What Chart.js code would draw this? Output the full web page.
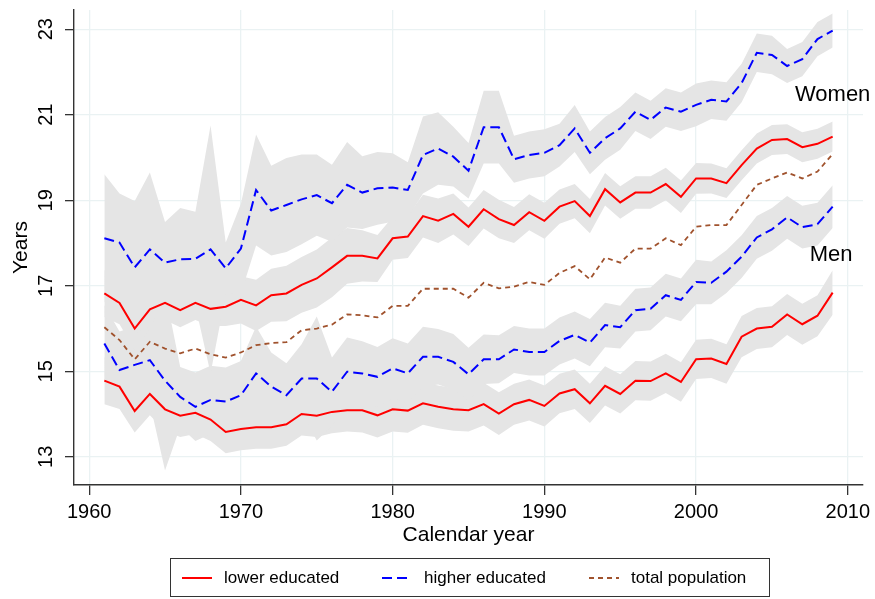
<!DOCTYPE html>
<html>
<head>
<meta charset="utf-8">
<script src="https://cdn.jsdelivr.net/npm/chart.js@4.4.1/dist/chart.umd.min.js"></script>
<style>
  body { margin: 0; background: #fff; font-family: "Liberation Sans", Arial, sans-serif; }
  #wrap { position: relative; width: 875px; height: 599px; }
  #legend {
    position: absolute; left: 170px; top: 558px; width: 600px; height: 39px;
    border: 1px solid #333; box-sizing: border-box;
  }
  .item { position: absolute; top: 0; height: 37px; display: flex; align-items: center; font-size: 17px; color: #000; }
  .item svg { margin-right: 12px; }
</style>
</head>
<body>
<div id="wrap">
  <canvas id="chart" width="875" height="599"></canvas>
  <div id="legend">
    <div class="item" style="left:11px"><svg width="30" height="4"><line x1="0" y1="2" x2="30" y2="2" stroke="#ff0000" stroke-width="2"/></svg>lower educated</div>
    <div class="item" style="left:211px"><svg width="30" height="4"><line x1="0" y1="2" x2="30" y2="2" stroke="#0000ff" stroke-width="2" stroke-dasharray="10,5"/></svg>higher educated</div>
    <div class="item" style="left:418px"><svg width="30" height="4"><line x1="0" y1="2" x2="30" y2="2" stroke="#a0522d" stroke-width="2" stroke-dasharray="5,4"/></svg>total population</div>
  </div>
</div>
<script>
const years = [
  1961, 1962, 1963, 1964, 1965, 1966, 1967, 1968, 1969, 1970,
  1971, 1972, 1973, 1974, 1975, 1976, 1977, 1978, 1979, 1980,
  1981, 1982, 1983, 1984, 1985, 1986, 1987, 1988, 1989, 1990,
  1991, 1992, 1993, 1994, 1995, 1996, 1997, 1998, 1999, 2000,
  2001, 2002, 2003, 2004, 2005, 2006, 2007, 2008, 2009
];

// women, higher educated
const womenHigh = [
  18.11, 18.01, 17.43, 17.85, 17.54, 17.62, 17.63, 17.85, 17.41, 17.87,
  19.24, 18.76, 18.89, 19.02, 19.12, 18.93, 19.36, 19.18, 19.28, 19.30,
  19.24, 20.06, 20.21, 20.02, 19.69, 20.71, 20.71, 19.96, 20.06, 20.11,
  20.29, 20.68, 20.11, 20.45, 20.68, 21.07, 20.88, 21.17, 21.07, 21.23,
  21.35, 21.31, 21.74, 22.45, 22.40, 22.14, 22.30, 22.77, 22.97
];
const womenHighCI = [
  1.50, 1.15, 1.55, 1.80, 0.95, 1.20, 1.10, 2.90, 0.60, 1.05,
  1.30, 1.05, 1.10, 1.05, 0.95, 0.90, 1.00, 0.85, 0.85, 0.80,
  0.65, 0.90, 0.85, 0.70, 0.65, 0.85, 0.85, 0.55, 0.55, 0.55,
  0.50, 0.55, 0.50, 0.50, 0.50, 0.45, 0.45, 0.45, 0.45, 0.50,
  0.45, 0.45, 0.45, 0.45, 0.45, 0.40, 0.40, 0.40, 0.40
];

// women, lower educated
const womenLow = [
  16.82, 16.60, 16.00, 16.45, 16.60, 16.43, 16.60, 16.46, 16.51, 16.67,
  16.54, 16.78, 16.82, 17.02, 17.17, 17.43, 17.70, 17.70, 17.64, 18.11,
  18.15, 18.63, 18.52, 18.68, 18.38, 18.79, 18.56, 18.42, 18.72, 18.52,
  18.85, 18.98, 18.63, 19.26, 18.95, 19.18, 19.18, 19.38, 19.08, 19.51,
  19.51, 19.40, 19.82, 20.21, 20.41, 20.43, 20.24, 20.32, 20.49
];
const womenLowCI = [
  0.55, 0.50, 0.50, 0.45, 0.40, 0.40, 0.40, 0.40, 0.45, 0.55,
  0.60, 0.62, 0.65, 0.65, 0.68, 0.70, 0.65, 0.60, 0.55, 0.50,
  0.50, 0.50, 0.52, 0.48, 0.45, 0.45, 0.45, 0.42, 0.42, 0.42,
  0.40, 0.40, 0.40, 0.38, 0.38, 0.38, 0.38, 0.38, 0.38, 0.36,
  0.35, 0.35, 0.35, 0.35, 0.35, 0.35, 0.35, 0.35, 0.35
];

// men, higher educated
const menHigh = [
  15.65, 15.03, 15.15, 15.26, 14.78, 14.40, 14.17, 14.33, 14.29, 14.44,
  14.95, 14.64, 14.44, 14.83, 14.83, 14.52, 14.99, 14.95, 14.87, 15.07,
  14.95, 15.34, 15.34, 15.22, 14.93, 15.28, 15.28, 15.51, 15.45, 15.45,
  15.71, 15.85, 15.67, 16.08, 16.03, 16.43, 16.46, 16.78, 16.67, 17.09,
  17.07, 17.33, 17.68, 18.13, 18.32, 18.60, 18.37, 18.44, 18.85
];
const menHighCI = [
  0.90, 0.90, 0.90, 1.00, 2.10, 0.70, 0.80, 0.80, 0.80, 0.80,
  1.10, 0.80, 0.75, 0.80, 1.45, 0.80, 0.80, 0.75, 0.70, 0.70,
  0.70, 0.70, 0.65, 0.65, 0.62, 0.58, 0.56, 0.55, 0.55, 0.55,
  0.55, 0.55, 0.55, 0.52, 0.50, 0.50, 0.50, 0.50, 0.50, 0.52,
  0.50, 0.50, 0.50, 0.50, 0.50, 0.50, 0.50, 0.50, 0.50
];

// men, lower educated
const menLow = [
  14.78, 14.64, 14.07, 14.47, 14.11, 13.96, 14.03, 13.87, 13.58, 13.65,
  13.69, 13.69, 13.76, 14.00, 13.96, 14.05, 14.09, 14.09, 13.97, 14.11,
  14.08, 14.25, 14.17, 14.11, 14.09, 14.23, 14.01, 14.23, 14.33, 14.19,
  14.48, 14.58, 14.25, 14.66, 14.47, 14.78, 14.77, 14.95, 14.75, 15.28,
  15.30, 15.17, 15.81, 16.00, 16.04, 16.33, 16.10, 16.30, 16.84
];
const menLowCI = [
  0.55, 0.52, 0.50, 0.50, 0.50, 0.50, 0.50, 0.50, 0.50, 0.50,
  0.50, 0.50, 0.50, 0.50, 0.50, 0.50, 0.50, 0.52, 0.52, 0.52,
  0.52, 0.50, 0.50, 0.50, 0.50, 0.50, 0.50, 0.48, 0.48, 0.48,
  0.46, 0.46, 0.46, 0.46, 0.46, 0.46, 0.46, 0.46, 0.46, 0.46,
  0.46, 0.46, 0.48, 0.48, 0.48, 0.48, 0.48, 0.48, 0.52
];

// total population
const totalPop = [
  16.03, 15.73, 15.28, 15.69, 15.53, 15.42, 15.53, 15.40, 15.32, 15.44,
  15.61, 15.66, 15.68, 15.96, 16.00, 16.09, 16.33, 16.31, 16.26, 16.53,
  16.53, 16.93, 16.93, 16.93, 16.72, 17.07, 16.94, 16.98, 17.09, 17.02,
  17.30, 17.46, 17.15, 17.66, 17.54, 17.87, 17.87, 18.11, 17.95, 18.38,
  18.42, 18.42, 18.89, 19.36, 19.51, 19.65, 19.51, 19.67, 20.08
];

const xTicks = [1960, 1970, 1980, 1990, 2000, 2010];
const yTicks = [13, 15, 17, 19, 21, 23];

// group labels placed in data coordinates
const groupLabels = [
  { text: "Women", x: 2009.0, y: 21.47 },
  { text: "Men", x: 2008.9, y: 17.72 }
];

const FONT = "'Liberation Sans', Arial, sans-serif";
const BAND = "rgb(229,229,229)";
const RED = "#ff0000";
const BLUE = "#0000ff";
const BROWN = "#a0522d";

const pts = (vals) => years.map((x, i) => ({ x: x, y: vals[i] }));

function band(mean, ci) {
  return [
    {
      data: years.map((x, i) => ({ x: x, y: mean[i] + ci[i] })),
      borderWidth: 0, pointRadius: 0, fill: false
    },
    {
      data: years.map((x, i) => ({ x: x, y: mean[i] - ci[i] })),
      borderWidth: 0, pointRadius: 0, fill: "-1", backgroundColor: BAND
    }
  ];
}

function line(vals, color, dash, width) {
  return {
    data: pts(vals), borderColor: color, borderWidth: width,
    borderDash: dash, pointRadius: 0, fill: false, tension: 0
  };
}

const labelPlugin = {
  id: "groupLabels",
  afterDatasetsDraw(chart) {
    const ctx = chart.ctx;
    const sx = chart.scales.x, sy = chart.scales.y;
    ctx.save();
    ctx.font = "22px " + FONT;
    ctx.fillStyle = "#000";
    ctx.textAlign = "center";
    ctx.textBaseline = "middle";
    groupLabels.forEach((l) => {
      ctx.fillText(l.text, sx.getPixelForValue(l.x), sy.getPixelForValue(l.y));
    });
    ctx.restore();
  }
};

new Chart(document.getElementById("chart"), {
  type: "line",
  data: {
    datasets: [
      ...band(womenHigh, womenHighCI),
      ...band(womenLow, womenLowCI),
      ...band(menHigh, menHighCI),
      ...band(menLow, menLowCI),
      line(womenHigh, BLUE, [10, 5], 2),
      line(womenLow, RED, [], 2),
      line(totalPop, BROWN, [5, 4], 1.8),
      line(menHigh, BLUE, [10, 5], 2),
      line(menLow, RED, [], 2)
    ]
  },
  options: {
    responsive: false,
    animation: false,
    layout: { padding: { top: 10, right: 12, bottom: 48, left: 0 } },
    plugins: {
      legend: { display: false },
      tooltip: { enabled: false },
      filler: { drawTime: "beforeDatasetsDraw" }
    },
    scales: {
      x: {
        type: "linear",
        min: 1959,
        max: 2011,
        afterBuildTicks: (s) => { s.ticks = xTicks.map((v) => ({ value: v })); },
        afterFit: (s) => { s.height = 66; s.paddingLeft = 0; s.paddingRight = 0; },
        ticks: {
          color: "#000", padding: 5, maxRotation: 0,
          font: { family: FONT, size: 20 },
          callback: (v) => String(v)
        },
        grid: { color: "#eaf2f3", lineWidth: 1.3, tickColor: "#333", tickLength: 10, tickWidth: 1.3 },
        border: { color: "#333", width: 1.4 },
        title: {
          display: true, text: "Calendar year", color: "#000",
          font: { family: FONT, size: 21 }, padding: { top: 0, bottom: 3 }
        }
      },
      y: {
        min: 12.34,
        max: 23.45,
        afterBuildTicks: (s) => { s.ticks = yTicks.map((v) => ({ value: v })); },
        afterFit: (s) => { s.width = 74; s.paddingTop = 0; s.paddingBottom = 0; },
        ticks: {
          color: "#000", padding: 7, minRotation: 90, maxRotation: 90,
          crossAlign: "center",
          font: { family: FONT, size: 20 },
          callback: (v) => String(v)
        },
        grid: { color: "#eaf2f3", lineWidth: 1.3, tickColor: "#333", tickLength: 9, tickWidth: 1.3 },
        border: { color: "#333", width: 1.4 },
        title: {
          display: true, text: "Years", color: "#000",
          font: { family: FONT, size: 21 }, padding: { top: 9, bottom: 0 }
        }
      }
    }
  },
  plugins: [labelPlugin]
});
</script>
</body>
</html>
